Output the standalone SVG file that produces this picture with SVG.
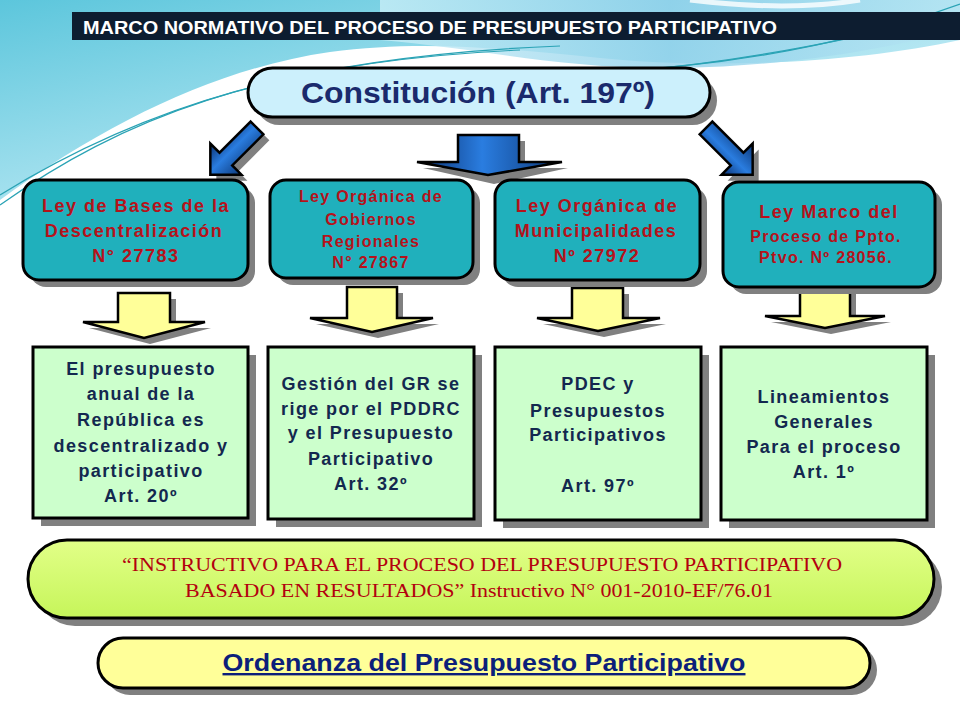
<svg xmlns="http://www.w3.org/2000/svg" width="960" height="720" viewBox="0 0 960 720">
<defs>
<linearGradient id="bg1" x1="0" y1="0" x2="1" y2="1">
<stop offset="0" stop-color="#5cc6dc"/><stop offset="0.6" stop-color="#b3e6f2"/><stop offset="1" stop-color="#e6f7fb"/>
</linearGradient>
<linearGradient id="bg2" x1="0" y1="0" x2="1" y2="0">
<stop offset="0" stop-color="#c9eef7"/><stop offset="0.5" stop-color="#8fd0ea"/><stop offset="1" stop-color="#b7e5f3"/>
</linearGradient>
<linearGradient id="blue" x1="0" y1="0" x2="1" y2="0">
<stop offset="0" stop-color="#0a2f6e"/><stop offset="0.45" stop-color="#2a7de0"/><stop offset="1" stop-color="#0c3778"/>
</linearGradient>
<linearGradient id="lime" x1="0" y1="0" x2="0" y2="1">
<stop offset="0" stop-color="#e2ff88"/><stop offset="1" stop-color="#c6f55a"/>
</linearGradient>
</defs>
<style>
.sh{fill:#808080}
.teal{fill:#20b0bc;stroke:#000;stroke-width:3}
.green{fill:#ccffcc;stroke:#000;stroke-width:3}
.yel{fill:#ffff99;stroke:#000;stroke-width:2.5}
.barrow{fill:url(#blue);stroke:#000;stroke-width:2.5}
.deco{fill:none;stroke:#2aa3b5;stroke-width:1.2}
.tr{font-family:"Liberation Sans",Arial,sans-serif;font-weight:bold;fill:#b5121b;text-anchor:middle;font-size:18px;letter-spacing:1.5px}
.tr2{font-family:"Liberation Sans",Arial,sans-serif;font-weight:bold;fill:#b5121b;text-anchor:middle;font-size:16px;letter-spacing:1.3px}
.tg{font-family:"Liberation Sans",Arial,sans-serif;font-weight:bold;fill:#13284f;text-anchor:middle;font-size:18px;letter-spacing:1.4px}
.ts{font-family:"Liberation Serif","Times New Roman",serif;fill:#b3000f;text-anchor:middle;font-size:18px}
</style>

<!-- background decoration -->
<rect x="0" y="0" width="960" height="720" fill="#ffffff"/>
<path d="M0,0 H960 V40 C860,62 720,70 600,58 C500,48 420,40 330,52 C220,68 110,120 0,200 Z" fill="url(#bg1)"/>
<path d="M380,40 C480,48 560,70 680,68 C790,66 880,50 960,30 V0 H380 Z" fill="url(#bg2)" opacity="0.8"/>
<path d="M690,0 C740,6 800,10 860,0" fill="none" stroke="#ffffff" stroke-width="5" opacity="0.8"/>
<path class="deco" d="M0,205 C120,120 260,62 520,50"/>
<path class="deco" d="M0,195 C140,108 300,56 560,46"/>
<path class="deco" d="M600,72 C740,66 860,40 960,4"/>
<path class="deco" d="M640,70 C760,60 880,32 960,14"/>

<!-- header -->
<g id="header">
<rect x="72" y="12" width="888" height="28" fill="#0d1d30"/>
<text x="83" y="34" font-family="Liberation Sans Narrow,'Liberation Sans',Arial,sans-serif" font-weight="bold" font-size="19" fill="#ffffff" textLength="694" lengthAdjust="spacingAndGlyphs">MARCO NORMATIVO DEL PROCESO DE PRESUPUESTO PARTICIPATIVO</text>
</g>

<!-- connectors -->
<g id="connectors">
<path class="sh" transform="translate(263,134) rotate(45)" d="M-9,0 H9 V44 H22 L0,66 L-22,44 H-9 Z"/>
<path class="barrow" transform="translate(257,128) rotate(45)" d="M-9,0 H9 V44 H22 L0,66 L-22,44 H-9 Z"/>
<path class="sh" transform="translate(712,134) rotate(-45)" d="M-9,0 H9 V44 H22 L0,66 L-22,44 H-9 Z"/>
<path class="barrow" transform="translate(706,128) rotate(-45)" d="M-9,0 H9 V44 H22 L0,66 L-22,44 H-9 Z"/>
<path class="sh" d="M464,141 H525 V168 H568 L494,184 L423,168 H464 Z"/>
<path class="barrow" d="M458,135 H519 V162 H562 L488,175 L417,162 H458 Z"/>

<path class="sh" d="M124,299 H176 V328 H211 L150,344 L89,328 H124 Z"/>
<path class="yel" d="M118,293 H170 V322 H205 L144,338 L83,322 H118 Z"/>
<path class="sh" d="M353,293 H403 V324 H439 L378,338 L316,324 H353 Z"/>
<path class="yel" d="M347,287 H397 V318 H433 L372,332 L310,318 H347 Z"/>
<path class="sh" d="M578,294 H629 V324 H666 L604,337 L543,324 H578 Z"/>
<path class="yel" d="M572,288 H623 V318 H660 L598,331 L537,318 H572 Z"/>
<path class="sh" d="M806,293 H856 V322 H891 L831,334 L771,322 H806 Z"/>
<path class="yel" d="M800,287 H850 V316 H885 L825,328 L765,316 H800 Z"/>
</g>

<!-- Constitucion -->
<g id="constitucion">
<rect class="sh" x="255" y="76" width="462" height="49" rx="24.5"/>
<rect x="248" y="68" width="462" height="49" rx="24.5" fill="#ccf0fc" stroke="#000" stroke-width="3"/>
<text x="478" y="103" font-family="'Liberation Sans',Arial,sans-serif" font-weight="bold" font-size="30" fill="#1a2a6c" text-anchor="middle" textLength="354" lengthAdjust="spacingAndGlyphs">Constitución (Art. 197º)</text>
</g>

<!-- teal boxes -->
<g id="ley-bases">
<rect class="sh" x="30" y="187" width="225" height="100" rx="16"/>
<rect class="teal" x="23" y="180" width="225" height="100" rx="16"/>
<text class="tr" x="136" y="212">Ley de Bases de la</text>
<text class="tr" x="134" y="237">Descentralización</text>
<text class="tr" x="136" y="262">N° 27783</text>
</g>
<g id="ley-gobiernos">
<rect class="sh" x="277" y="187" width="203" height="98" rx="16"/>
<rect class="teal" x="270" y="180" width="203" height="98" rx="16"/>
<text class="tr2" x="371" y="202">Ley Orgánica de</text>
<text class="tr2" x="371" y="225">Gobiernos</text>
<text class="tr2" x="371" y="247">Regionales</text>
<text class="tr2" x="371" y="268">N°  27867</text>
</g>
<g id="ley-municipalidades">
<rect class="sh" x="502" y="187" width="205" height="100" rx="16"/>
<rect class="teal" x="495" y="180" width="205" height="100" rx="16"/>
<text class="tr" x="597" y="212">Ley Orgánica de</text>
<text class="tr" x="596" y="237">Municipalidades</text>
<text class="tr" x="597" y="262">Nº 27972</text>
</g>
<g id="ley-marco">
<rect class="sh" x="730" y="189" width="212" height="105" rx="16"/>
<rect class="teal" x="723" y="182" width="212" height="105" rx="16"/>
<text class="tr" x="829" y="218">Ley Marco del</text>
<text class="tr2" x="826" y="242">Proceso de Ppto.</text>
<text class="tr2" x="826" y="263">Ptvo. Nº 28056.</text>
</g>

<!-- green boxes -->
<g id="art20">
<rect class="sh" x="41" y="355" width="215" height="171"/>
<rect class="green" x="33" y="347" width="215" height="171"/>
<text class="tg" x="141" y="375">El presupuesto</text>
<text class="tg" x="141" y="400">anual de la</text>
<text class="tg" x="141" y="426">República es</text>
<text class="tg" x="141" y="452">descentralizado y</text>
<text class="tg" x="141" y="477">participativo</text>
<text class="tg" x="141" y="502">Art. 20º</text>
</g>
<g id="art32">
<rect class="sh" x="276" y="355" width="206" height="172"/>
<rect class="green" x="268" y="347" width="206" height="172"/>
<text class="tg" x="371" y="390">Gestión del GR se</text>
<text class="tg" x="371" y="415">rige por el PDDRC</text>
<text class="tg" x="371" y="439">y el Presupuesto</text>
<text class="tg" x="371" y="465">Participativo</text>
<text class="tg" x="371" y="490">Art. 32º</text>
</g>
<g id="art97">
<rect class="sh" x="503" y="355" width="206" height="173"/>
<rect class="green" x="495" y="347" width="206" height="173"/>
<text class="tg" x="598" y="390">PDEC y</text>
<text class="tg" x="598" y="417">Presupuestos</text>
<text class="tg" x="598" y="441">Participativos</text>
<text class="tg" x="598" y="492">Art. 97º</text>
</g>
<g id="art1">
<rect class="sh" x="729" y="355" width="206" height="173"/>
<rect class="green" x="721" y="347" width="206" height="173"/>
<text class="tg" x="824" y="403">Lineamientos</text>
<text class="tg" x="824" y="428">Generales</text>
<text class="tg" x="824" y="453">Para el proceso</text>
<text class="tg" x="824" y="478">Art. 1º</text>
</g>

<!-- instructivo -->
<g id="instructivo">
<rect class="sh" x="36" y="548" width="906" height="78" rx="39"/>
<rect x="28" y="540" width="906" height="78" rx="39" fill="url(#lime)" stroke="#000" stroke-width="3"/>
<text class="ts" x="482" y="571" textLength="720" lengthAdjust="spacingAndGlyphs">“INSTRUCTIVO  PARA EL PROCESO DEL PRESUPUESTO PARTICIPATIVO</text>
<text class="ts" x="479" y="597" textLength="588" lengthAdjust="spacingAndGlyphs">BASADO EN RESULTADOS” Instructivo N° 001-2010-EF/76.01</text>
</g>

<!-- ordenanza -->
<g id="ordenanza">
<rect class="sh" x="105" y="645" width="772" height="50" rx="25"/>
<rect x="98" y="638" width="772" height="50" rx="25" fill="#ffff99" stroke="#000" stroke-width="3"/>
<text x="484" y="671" font-family="'Liberation Sans',Arial,sans-serif" font-weight="bold" font-size="24" fill="#0c1f7a" text-anchor="middle" text-decoration="underline" textLength="523" lengthAdjust="spacingAndGlyphs">Ordenanza del Presupuesto Participativo</text>
</g>
</svg>
